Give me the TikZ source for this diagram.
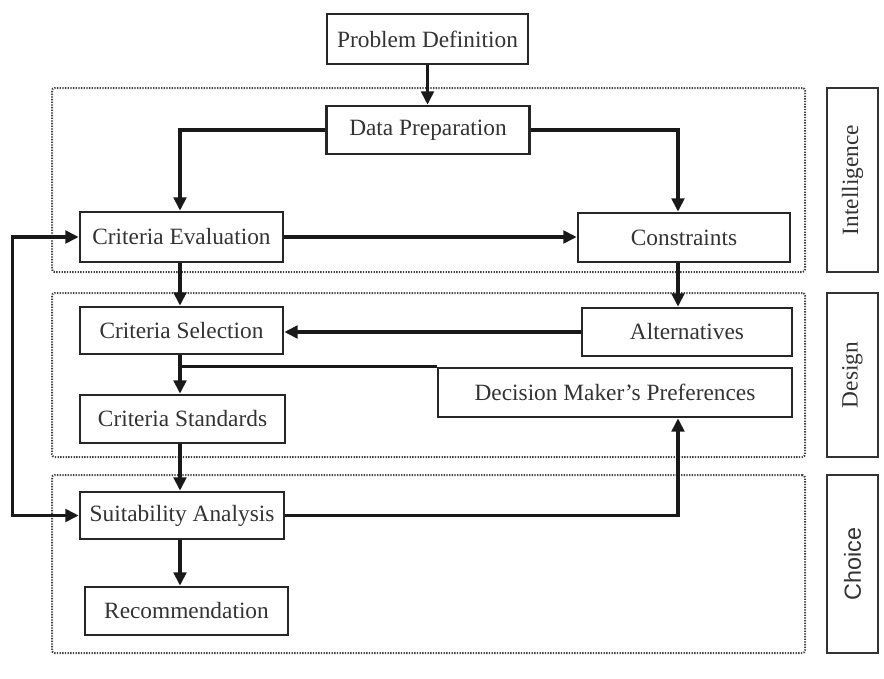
\documentclass[tikz,border=0pt]{standalone}
\usepackage{fontspec}
\setmainfont{Liberation Serif}
\setsansfont{Liberation Sans}
\usetikzlibrary{arrows.meta}
\definecolor{txt}{HTML}{333333}
\definecolor{dots}{HTML}{444444}
\tikzset{
  stepbox/.style={draw=black!85, line width=2pt, inner sep=0pt, text=txt,
    font=\fontsize{17.5}{20}\selectfont, minimum height=36pt},
  region/.style={draw=dots, line width=1.5pt, dash pattern=on 1pt off 1pt,
    rounded corners=2pt, inner sep=0pt},
  phase/.style={draw=black!80, line width=2pt, inner sep=0pt, text=txt,
    font=\fontsize{17.5}{20}\selectfont},
  conn/.style={line width=2.3pt, draw=black!90},
  arr/.style={conn, -{Triangle[length=10pt,width=9.5pt]}},
  biarr/.style={conn, {Triangle[length=10pt,width=9.5pt]}-{Triangle[length=10pt,width=9.5pt]}}
}
\begin{document}
\begin{tikzpicture}[x=0.75pt,y=-0.75pt]
\useasboundingbox (0,0) rectangle (884,678);
\fill[white] (0,0) rectangle (884,678);

% regions
\node[region, minimum width=564.75pt, minimum height=138pt] (intel) at (428.5,180) {};
\node[region, minimum width=564.75pt, minimum height=123pt] (design) at (428.5,375) {};
\node[region, minimum width=564.75pt, minimum height=133.5pt] (choice) at (428.5,564) {};

% phase labels
\node[phase, minimum width=38.25pt, minimum height=138pt] (pint) at (852.5,180) {\rotatebox{90}{Intelligence}};
\node[phase, minimum width=38.25pt, minimum height=123pt] (pdes) at (852.5,375) {\rotatebox{90}{Design}};
\node[phase, minimum width=38.25pt, minimum height=133.5pt] (pcho) at (852.5,564) {\rotatebox{90}{\sffamily Choice}};

% steps
\node[stepbox, minimum width=150.75pt, minimum height=37.5pt] (pd) at (427.5,39) {Problem Definition};
\node[stepbox, minimum width=152.25pt] (dp) at (428,130) {Data Preparation};
\node[stepbox, minimum width=152.25pt, minimum height=37.5pt] (ce) at (181.5,237) {Criteria Evaluation};
\node[stepbox, minimum width=159pt, minimum height=36.75pt] (con) at (684,237.5) {Constraints};
\node[stepbox, minimum width=152.25pt, minimum height=35.25pt] (cs) at (181.5,330.5) {Criteria Selection};
\node[stepbox, minimum width=157.5pt] (alt) at (687,332) {Alternatives};
\node[stepbox, minimum width=153.75pt] (cst) at (182.5,419) {Criteria Standards};
\node[stepbox, minimum width=265.5pt, minimum height=36.75pt] (dmp) at (615,392.5) {Decision Maker’s Preferences};
\node[stepbox, minimum width=153pt, minimum height=35.25pt] (sa) at (182,515.5) {Suitability Analysis};
\node[stepbox, minimum width=152.25pt] (rec) at (186.5,611) {Recommendation};

\coordinate (vx) at (678,0);
\coordinate (vl) at (180,0);

% connectors
\draw[arr] (pd.south) -- (pd.south |- dp.north);
\draw[arr] (dp.west) -| (vl |- ce.north);
\draw[arr] (dp.east) -| (vx |- con.north);
\draw[arr] (ce.east) -- (ce.east -| con.west);
\draw[arr] (vl |- ce.south) -- (vl |- cs.north);
\draw[arr] (vx |- con.south) -- (vx |- alt.north);
\draw[arr] (alt.west) -- (alt.west -| cs.east);
\draw[arr] (vl |- cs.south) -- (vl |- cst.north);
\draw[conn] (vl |- dmp.north) -- (dmp.north west);
\draw[arr] (vl |- cst.south) -- (vl |- sa.north);
\draw[arr] (sa.east) -| (vx |- dmp.south);
\draw[arr] (vl |- sa.south) -- (vl |- rec.north);
\draw[biarr] (ce.west) -- ++(-66,0) |- (sa.west);
\end{tikzpicture}
\end{document}
